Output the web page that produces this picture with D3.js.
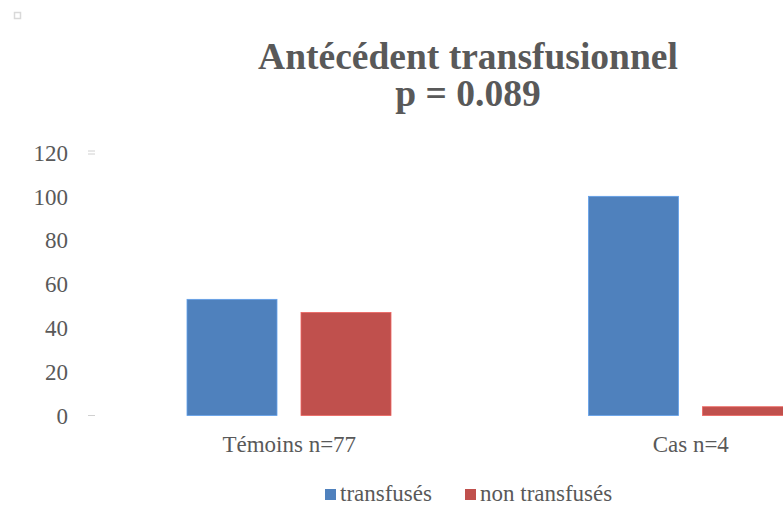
<!DOCTYPE html>
<html>
<head>
<meta charset="utf-8">
<script src="https://cdn.jsdelivr.net/npm/d3@7"></script>
<style>
  body { margin: 0; background: #fff; }
  svg { display: block; }
</style>
</head>
<body>
<script>
//// Data ////
const categories = ["Témoins n=77", "Cas n=4"]
const series = ["transfusés", "non transfusés"]
const transfuses = [53, 100]
const nonTransfuses = [47, 4]
const yTicks = [0, 20, 40, 60, 80, 100, 120]
const titleLines = ["Antécédent transfusionnel", "p = 0.089"]

//// Drawing constants ////
const WIDTH = 783
const HEIGHT = 506
const COLORS = ["#4f81bd", "#c0504d"]
const FONT = "Liberation Serif"
const TEXT_COLOR = "#595959"
const LABEL_SIZE = 23

const svg = d3.select("body").append("svg")
  .attr("width", WIDTH)
  .attr("height", HEIGHT)

// small handle square top left
svg.append("rect")
  .attr("x", 14.5).attr("y", 12.5)
  .attr("width", 6).attr("height", 6)
  .attr("fill", "none").attr("stroke", "#d9d9d9").attr("stroke-width", 1.5)

// scales
const x = d3.scaleBand().domain(categories).range([88.5, 891.5])
const xSeries = d3.scaleBand().domain(series).range([98.5, 302.5]).paddingInner(24 / 114)
const y = d3.scaleLinear().domain([0, 120]).range([415.5, 152.5])

// y axis labels
const yAxis = svg.append("g")
  .attr("transform", "translate(68,0)")
  .call(d3.axisLeft(y).tickValues(yTicks).tickSize(0).tickPadding(0))
yAxis.attr("font-family", null).attr("font-size", null)
yAxis.select(".domain").remove()
yAxis.selectAll("text")
  .attr("dy", "0.34em")
  .attr("font-family", FONT)
  .attr("font-size", LABEL_SIZE)
  .attr("fill", TEXT_COLOR)

// faint tick marks near the axis
const marks = [[120, -1.5], [120, 1.5], [0, 0]]
svg.selectAll("line.mk").data(marks).join("line")
  .attr("class", "mk")
  .attr("x1", 88).attr("x2", 95)
  .attr("y1", d => y(d[0]) + d[1]).attr("y2", d => y(d[0]) + d[1])
  .attr("stroke", "#d0d0d0").attr("stroke-width", 1)

// bars
const rows = categories.map((c, i) => ({ cat: c, vals: [transfuses[i], nonTransfuses[i]] }))
const groups = svg.selectAll("g.grp").data(rows).join("g")
  .attr("class", "grp")
  .attr("transform", d => `translate(${x(d.cat)},0)`)
groups.selectAll("rect")
  .data(d => d.vals.map((v, j) => ({ s: series[j], v: v, j: j })))
  .join("rect")
  .attr("x", d => xSeries(d.s))
  .attr("width", xSeries.bandwidth())
  .attr("y", d => y(d.v))
  .attr("height", d => y(0) - y(d.v))
  .attr("fill", d => COLORS[d.j])
  .attr("stroke", d => d3.color(COLORS[d.j]).brighter(0.6))
  .attr("stroke-width", 0.8)

// category labels
const xAxis = svg.append("g")
  .attr("transform", "translate(0,452)")
  .call(d3.axisBottom(x).tickSize(0).tickPadding(0))
xAxis.attr("font-family", null).attr("font-size", null)
xAxis.select(".domain").remove()
xAxis.selectAll("text")
  .attr("dy", "0")
  .attr("font-family", FONT)
  .attr("font-size", LABEL_SIZE)
  .attr("fill", TEXT_COLOR)

// title
svg.selectAll("text.title").data(titleLines).join("text")
  .attr("class", "title")
  .attr("x", 468)
  .attr("y", (d, i) => 69 + i * 37)
  .attr("text-anchor", "middle")
  .attr("font-family", FONT)
  .attr("font-size", 37.5)
  .attr("font-weight", "bold")
  .attr("fill", TEXT_COLOR)
  .text(d => d)

// legend
const legendX = [325, 465]
const legend = svg.selectAll("g.leg").data(series).join("g")
  .attr("class", "leg")
  .attr("transform", (d, i) => `translate(${legendX[i]},489)`)
legend.append("rect")
  .attr("width", 11).attr("height", 11)
  .attr("fill", (d, i) => COLORS[i])
legend.append("text")
  .attr("x", 15).attr("y", 12)
  .attr("font-family", FONT)
  .attr("font-size", LABEL_SIZE)
  .attr("fill", TEXT_COLOR)
  .text(d => d)
</script>
</body>
</html>
